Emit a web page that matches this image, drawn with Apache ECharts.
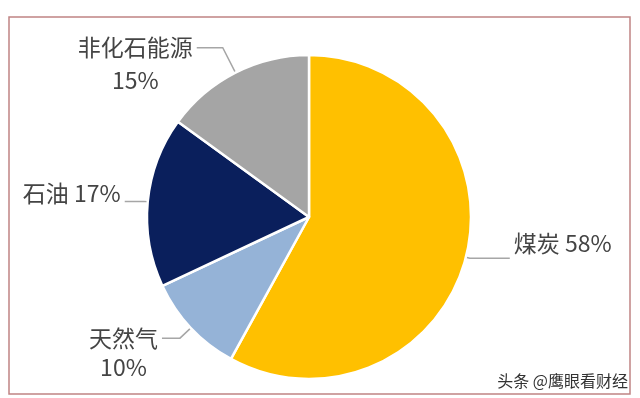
<!DOCTYPE html>
<html>
<head>
<meta charset="utf-8">
<script src="https://cdn.jsdelivr.net/npm/echarts@6/dist/echarts.min.js"></script>
<style>
  html, body { margin: 0; padding: 0; background: #fff; }
  #chart { width: 640px; height: 398px; }
</style>
</head>
<body>
<div id="chart"></div>
<script>
// energy mix, clockwise from 12 o'clock
let names = ["煤炭", "天然气", "石油", "非化石能源"];
let shares = [58, 10, 17, 15];
let colors = ["#FFC000", "#95B3D7", "#0A1F5C", "#A5A5A5"];

let font = '"Noto Sans CJK SC", "Noto Sans", sans-serif';
let fontSize = 23;
let textColor = '#444444';

// per slice label tweaks: two-line labels get the name over the percent
let twoLine = [false, true, false, true];
let lineLen = [4, 15, 4, 28];
let lineLen2 = [40, 18, 19, 26];
let lineGap = [30, 29, 30, 33];
let lift = [30, 0, 17, 0];   // bottom padding, raises one-line labels above the line end

var myChart = echarts.init(document.getElementById("chart"));

let data = [];
names.forEach((name, i) => {
    let item = {
        name: name,
        value: shares[i],
        itemStyle: { color: colors[i] },
        labelLine: { length: lineLen[i], length2: lineLen2[i] }
    };
    let txt = { fontSize: fontSize, lineHeight: lineGap[i], color: textColor, fontFamily: font };
    if (twoLine[i]) {
        txt.width = name.length * fontSize;
        txt.align = 'center';
        item.label = {
            formatter: '{c|{b}}\n{c|{d}%}',
            padding: [lineGap[i], 0, 0, 0],
            rich: { c: txt }
        };
    } else {
        item.label = {
            formatter: '{c|{b} {d}%}',
            padding: [0, 0, lift[i], 0],
            rich: { c: txt }
        };
    }
    data.push(item);
});

let option = {
    animation: false,
    backgroundColor: '#fff',
    graphic: [
        {
            type: 'rect',
            shape: { x: 9, y: 17, width: 621, height: 377 },
            style: { fill: null, stroke: '#C08484', lineWidth: 1.5 },
            z: 0
        },
        {
            type: 'text',
            right: 11,
            bottom: 8,
            style: {
                text: '头条 @鹰眼看财经',
                fontSize: 16,
                fontFamily: font,
                fill: '#333',
                stroke: '#fff',
                lineWidth: 2
            },
            z: 10
        }
    ],
    series: [
        {
            type: 'pie',
            center: [309, 217],
            radius: 162,
            startAngle: 90,
            clockwise: true,
            avoidLabelOverlap: false,
            itemStyle: {
                borderColor: '#fff',
                borderWidth: 2.5
            },
            label: {
                show: true,
                position: 'outside',
                fontSize: fontSize,
                color: textColor,
                fontFamily: font,
                distanceToLabelLine: 4
            },
            labelLine: {
                show: true,
                smooth: false,
                lineStyle: { color: '#A6A6A6', width: 1.5 }
            },
            data: data
        }
    ]
};

myChart.setOption(option);
</script>
</body>
</html>
